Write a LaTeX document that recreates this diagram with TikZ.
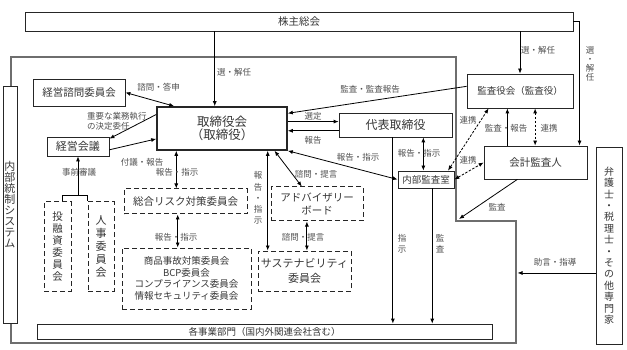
\documentclass[tikz,border=0pt]{standalone}
\usepackage{fontspec}
\setmainfont{Noto Sans CJK JP}
\usetikzlibrary{arrows.meta,calc}
\definecolor{txtgray}{RGB}{55,55,55}
\definecolor{lblgray}{RGB}{80,80,80}
\definecolor{frmgray}{RGB}{110,110,110}
\newcommand{\fsz}[2]{\fontsize{#1}{#2}\selectfont}
\tikzset{
  box/.style={draw=black!85, line width=0.8pt, fill=white, inner sep=0pt, align=center,
              text=txtgray, font=\fsz{10.5}{12.5}},
  dbox/.style={box, line width=1pt, dash pattern=on 5pt off 3pt},
  lbl/.style={font=\fsz{8.5}{10}, text=lblgray, inner sep=0pt, align=center},
  vlbl/.style={lbl, font=\fsz{8.5}{11.2}},
  arr/.style={-{Latex[length=5pt,width=4pt]}, line width=0.8pt},
  darr/.style={{Latex[length=5pt,width=4pt]}-{Latex[length=5pt,width=4pt]}, line width=0.8pt},
  lnk/.style={darr, dash pattern=on 2.5pt off 1.5pt},
  ctrlfrm/.style={draw=black!80, double=frmgray, double distance=1.5pt, line width=0.5pt},
}

\begin{document}
\begin{tikzpicture}[x=1pt, y=-1pt]
  \fill[white] (0,0) rectangle (627,350);
  \useasboundingbox (0,0) rectangle (627,350);
  \draw[ctrlfrm] (11,57) -- (456,57) -- (456,221) -- (516,221) -- (516,343) -- (11,343) -- cycle;
  \coordinate (fcorner) at (456,221);
  \coordinate (fright) at (517.5,272);

  \node[box, minimum width=548pt, minimum height=19pt] (kabu) at (299,21.5) {株主総会};
  \node[box, line width=1.6pt, minimum width=130pt, minimum height=43pt, font=\fsz{12.5}{12.5}] (tori) at (222,128.5) {取締役会\\（取締役）};
  \node[box, minimum width=92pt, minimum height=27pt] (kmon) at (79,92.5) {経営諮問委員会};
  \node[box, minimum width=62pt, minimum height=19pt, font=\fsz{11}{12}] (kkai) at (78,146.5) {経営会議};
  \node[dbox, minimum width=27pt, minimum height=89pt, font=\fsz{10.5}{12}] (toyu) at (57.5,246.5) {投\\融\\資\\委\\員\\会};
  \node[dbox, minimum width=26pt, minimum height=89pt, font=\fsz{11}{13}] (jinji) at (101,246.5) {人\\事\\委\\員\\会};
  \node[box, minimum width=14pt, minimum height=237pt, font=\fsz{11}{11}] (naibu) at (10,204.5) {内\\部\\統\\制\\シ\\ス\\テ\\ム};
  \node[box, minimum width=455pt, minimum height=15pt, font=\fsz{9.5}{10}] (jigyo) at (264.5,331.5) {各事業部門（国内外関連会社含む）};
  \node[dbox, minimum width=123pt, minimum height=25pt] (risk) at (185.5,201.5) {総合リスク対策委員会};
  \node[dbox, minimum width=129pt, minimum height=61pt, font=\fsz{9.5}{11.7}] (shohin) at (186.5,278.5) {商品事故対策委員会\\BCP委員会\\コンプライアンス委員会\\情報セキュリティ委員会};
  \node[dbox, minimum width=92pt, minimum height=34pt, font=\fsz{10.5}{13}] (adv) at (317,204) {アドバイザリー\\ボード};
  \node[dbox, minimum width=93pt, minimum height=40pt, font=\fsz{11}{15}] (sus) at (304.5,271) {サステナビリティ\\委員会};
  \node[box, minimum width=113pt, minimum height=24pt, font=\fsz{12}{12}] (daihyo) at (395.5,125) {代表取締役};
  \node[box, minimum width=106pt, minimum height=34pt, font=\fsz{9.5}{10}] (kansa) at (520,91) {監査役会（監査役）};
  \node[box, minimum width=103pt, minimum height=33pt] (kaikei) at (535.5,162.5) {会計監査人};
  \node[box, minimum width=56pt, minimum height=17pt, font=\fsz{9.5}{10}] (naikan) at (426,179.5) {内部監査室};
  \node[box, minimum width=26pt, minimum height=197pt, font=\fsz{10}{11.4}] (bengo) at (609,245.5) {弁\\護\\士\\・\\税\\理\\士\\・\\そ\\の\\他\\専\\門\\家};

  \draw[arr] (kabu.south -| tori.108) -- (tori.108);
  \draw[arr] (kabu.south -| kansa.north) -- (kansa.north);
  \draw[arr] (kabu.east) -| (kaikei.21);
  \draw[darr] (kmon.east) -- (tori.155);
  \draw[arr] (tori.168) -- (kkai.14);
  \draw[arr] (kkai.354) -- (tori.189);
  \draw ([xshift=5pt]toyu.north) |- ([yshift=6pt]jinji.north west) -- (jinji.north west);
  \coordinate (brk) at ([yshift=6pt]jinji.north west);
  \draw[arr] (kkai.south |- brk) -- (kkai.south);
  \draw[darr] (tori.206) -- (tori.206 |- risk.north);
  \draw[darr] (risk.239) -- (risk.239 |- shohin.north);
  \draw[darr] (tori.334) -- (tori.334 |- sus.north);
  \draw[darr] (tori.337) -- (adv.131);
  \draw[darr] (adv.240) -- (adv.240 |- sus.north);
  \draw[arr] (tori.6) -- (tori.6 -| daihyo.west);
  \draw[arr] (tori.358 -| daihyo.west) -- (tori.358);
  \draw[darr] (tori.south east) -- (naikan.west);
  \draw[arr] (kansa.175) -- (tori.13);
  \draw[darr] (daihyo.336) -- (daihyo.336 |- naikan.north);
  \draw[arr] (daihyo.258) -- (daihyo.258 |- jigyo.north);
  \draw[arr] (naikan.305) -- (naikan.305 |- jigyo.north);
  \draw[lnk] (naikan.22) -- (kansa.209);
  \draw[lnk] (naikan.east) -- (kaikei.west);
  \draw[arr] (kaikei.149) -- (kaikei.149 |- kansa.south);
  \draw[lnk] (kansa.311) -- (kansa.311 |- kaikei.north);
  \draw[arr] (kaikei.223) -- ([xshift=3pt,yshift=2pt]fcorner);
  \draw[arr] (bengo.244) -- (bengo.244 -| fright);

  \node[lbl] (l1) at (234,72) {選・解任};
  \node[lbl] (l2) at (538,50) {選・解任};
  \node[lbl, font=\fsz{8.5}{9}] (l3) at (590,64) {選\\・\\解\\任};
  \node[lbl] (l4) at (158.5,87) {諮問・答申};
  \node[lbl, anchor=west, align=left] (l5) at (87,121) {重要な業務執行\\の決定委任};
  \node[lbl] (l6) at (142,162) {付議・報告};
  \node[lbl] (l7) at (79,172) {事前審議};
  \node[lbl] (l8) at (177,172) {報告・指示};
  \node[lbl] (l9) at (176,237) {報告・指示};
  \node[vlbl] (l10) at (258,198) {報\\告\\・\\指\\示};
  \node[lbl] (l11) at (316,174) {諮問・提言};
  \node[lbl] (l12) at (303,237) {諮問・提言};
  \node[lbl] (l13) at (313,116) {選定};
  \node[lbl] (l14) at (313,140) {報告};
  \node[lbl] (l15) at (358,157) {報告・指示};
  \node[lbl] (l16) at (370,89) {監査・監査報告};
  \node[lbl] (l17) at (419,153) {報告・指示};
  \node[vlbl] (l18) at (402,244) {指\\示};
  \node[vlbl] (l19) at (440,244) {監\\査};
  \node[lbl] (l20) at (468,120) {連携};
  \node[lbl] (l21) at (468,160) {連携};
  \node[lbl] (l22) at (506,128) {監査・報告};
  \node[lbl] (l23) at (549,128) {連携};
  \node[lbl] (l24) at (497,207) {監査};
  \node[lbl] (l25) at (555,262) {助言・指導};
\end{tikzpicture}
\end{document}
